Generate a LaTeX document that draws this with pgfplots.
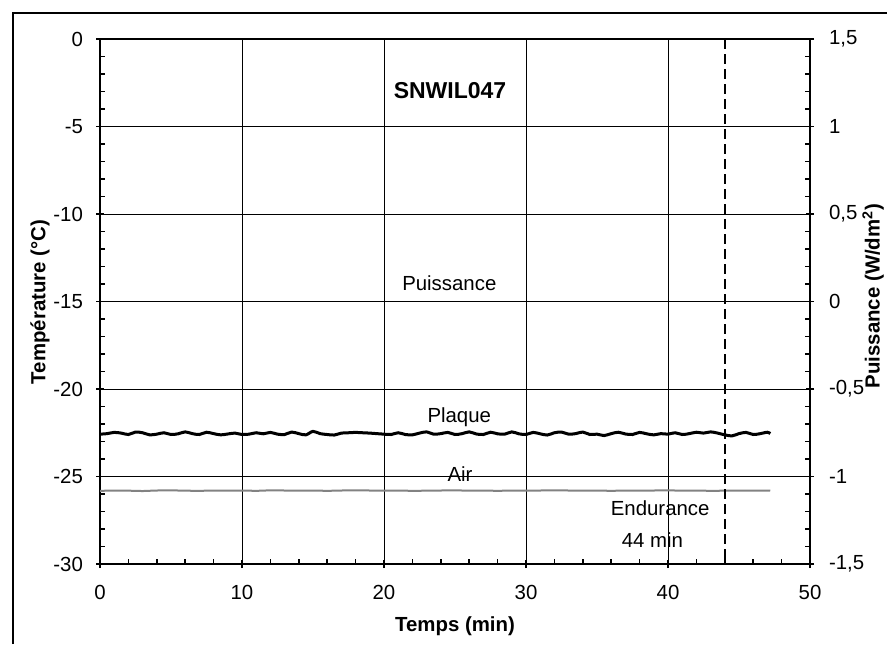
\documentclass[border=0pt]{standalone}
\usepackage{pgfplots}
\pgfplotsset{compat=1.18}
\usepackage{fontspec}
\setmainfont{Liberation Sans}
\definecolor{airgray}{RGB}{130,130,130}
\begin{document}
\begin{tikzpicture}[x=0.5pt,y=0.5pt]
\useasboundingbox (-100,-80) rectangle (787,564);
\draw[line width=1pt] (-87,-80) -- (-87,551) -- (787,551);
\pgfplotsset{
  myax/.style={
    scale only axis, width=355pt, height=262.5pt,
    xmin=0, xmax=50,
    tick align=center,
    major tick length=4pt,
    minor tick length=2.5pt,
    every tick/.style={black, line width=0.75pt},
    axis line style={line width=1pt},
    ticklabel style={font=\fontsize{10.2}{12}\selectfont},
  }
}
\begin{axis}[myax,
  ymin=-30, ymax=0,
  xtick={0,10,20,30,40,50}, xticklabels={0,10,20,30,40,50},
  ytick={-30,-25,-20,-15,-10,-5,0}, yticklabels={-30,-25,-20,-15,-10,-5,0},
  minor x tick num=4, minor y tick num=4,
  xtick pos=bottom, ytick pos=left,
  minor x tick style={yshift=1.25pt},
  minor y tick style={xshift=1.25pt},
  grid=major, major grid style={black, line width=0.5pt},
  xticklabel style={yshift=-5pt},
  yticklabel style={xshift=-3pt},
]
\addplot[black, line width=1.5pt, smooth] coordinates {
(0,-22.58)(0.5,-22.55)(1,-22.48)(1.5,-22.52)(2,-22.60)(2.5,-22.46)(3,-22.50)(3.5,-22.62)(4,-22.58)(4.5,-22.50)
(5,-22.60)(5.5,-22.56)(6,-22.45)(6.5,-22.55)(7,-22.60)(7.5,-22.47)(8,-22.55)(8.5,-22.62)(9,-22.57)(9.5,-22.52)
(10,-22.60)(10.5,-22.58)(11,-22.50)(11.5,-22.56)(12,-22.48)(12.5,-22.58)(13,-22.60)(13.5,-22.46)(14,-22.55)(14.5,-22.62)
(15,-22.42)(15.5,-22.55)(16,-22.60)(16.5,-22.63)(17,-22.52)(17.5,-22.50)(18,-22.48)(18.5,-22.50)(19,-22.52)(19.5,-22.55)
(20,-22.58)(20.5,-22.60)(21,-22.50)(21.5,-22.60)(22,-22.62)(22.5,-22.52)(23,-22.45)(23.5,-22.58)(24,-22.55)(24.5,-22.48)
(25,-22.60)(25.5,-22.55)(26,-22.45)(26.5,-22.57)(27,-22.60)(27.5,-22.47)(28,-22.56)(28.5,-22.58)(29,-22.45)(29.5,-22.56)
(30,-22.60)(30.5,-22.48)(31,-22.56)(31.5,-22.63)(32,-22.50)(32.5,-22.46)(33,-22.58)(33.5,-22.55)(34,-22.46)(34.5,-22.60)
(35,-22.58)(35.5,-22.66)(36,-22.55)(36.5,-22.47)(37,-22.57)(37.5,-22.60)(38,-22.48)(38.5,-22.56)(39,-22.62)(39.5,-22.55)
(40,-22.58)(40.5,-22.50)(41,-22.60)(41.5,-22.55)(42,-22.47)(42.5,-22.52)(43,-22.45)(43.5,-22.52)(44,-22.62)(44.5,-22.68)
(45,-22.55)(45.5,-22.48)(46,-22.60)(46.5,-22.55)(47,-22.47)(47.2,-22.55)
};
\addplot[airgray, line width=1pt] coordinates {
(0,-25.82)(1,-25.80)(2,-25.81)(3,-25.83)(4,-25.80)(5,-25.79)(6,-25.81)(7,-25.82)(8,-25.80)(9,-25.81)
(10,-25.80)(11,-25.82)(12,-25.79)(13,-25.80)(14,-25.81)(15,-25.80)(16,-25.82)(17,-25.80)(18,-25.79)(19,-25.80)
(20,-25.81)(21,-25.80)(22,-25.82)(23,-25.81)(24,-25.80)(25,-25.79)(26,-25.81)(27,-25.80)(28,-25.82)(29,-25.80)
(30,-25.81)(31,-25.80)(32,-25.79)(33,-25.80)(34,-25.81)(35,-25.80)(36,-25.82)(37,-25.80)(38,-25.81)(39,-25.80)
(40,-25.79)(41,-25.81)(42,-25.80)(43,-25.82)(44,-25.81)(45,-25.80)(46,-25.81)(47,-25.80)(47.2,-25.81)
};
\addplot[black, line width=1pt, dash pattern=on 5pt off 2.5pt] coordinates {(44,0)(44,-30)};
\node[font=\fontsize{11.5}{13}\selectfont\bfseries] at (axis cs:24.65,-2.97) {SNWIL047};
\node[font=\fontsize{10.2}{12}\selectfont, anchor=base] at (axis cs:24.6,-14.35) {Puissance};
\node[font=\fontsize{10.2}{12}\selectfont, anchor=base] at (axis cs:25.3,-21.94) {Plaque};
\node[font=\fontsize{10.2}{12}\selectfont, anchor=base] at (axis cs:25.35,-25.26) {Air};
\node[font=\fontsize{10.2}{12}\selectfont, anchor=base] at (axis cs:39.45,-27.2) {Endurance};
\node[font=\fontsize{10.2}{12}\selectfont, anchor=base] at (axis cs:38.9,-29.05) {44 min};
\end{axis}
\begin{axis}[myax,
  ymin=-1.5, ymax=1.5,
  axis x line=none, axis y line*=right,
  ytick={-1.5,-1,-0.5,0,0.5,1,1.5},
  yticklabels={{-1,5},-1,{-0,5},0,{0,5},1,{1,5}},
  minor y tick num=4,
  minor y tick style={xshift=-1.25pt},
  yticklabel style={xshift=4pt},
]
\addplot[black, line width=0.75pt] coordinates {(0,0)(47.2,0)};
\end{axis}
\node[font=\fontsize{10.2}{12}\selectfont\bfseries] at (355,-62) {Temps (min)};
\node[font=\fontsize{10.2}{12}\selectfont\bfseries, rotate=90] at (-60,262) {Température (°C)};
\node[font=\fontsize{10.2}{12}\selectfont\bfseries, rotate=90] at (773,268) {Puissance (W/dm\textsuperscript{2})};
\end{tikzpicture}
\end{document}
